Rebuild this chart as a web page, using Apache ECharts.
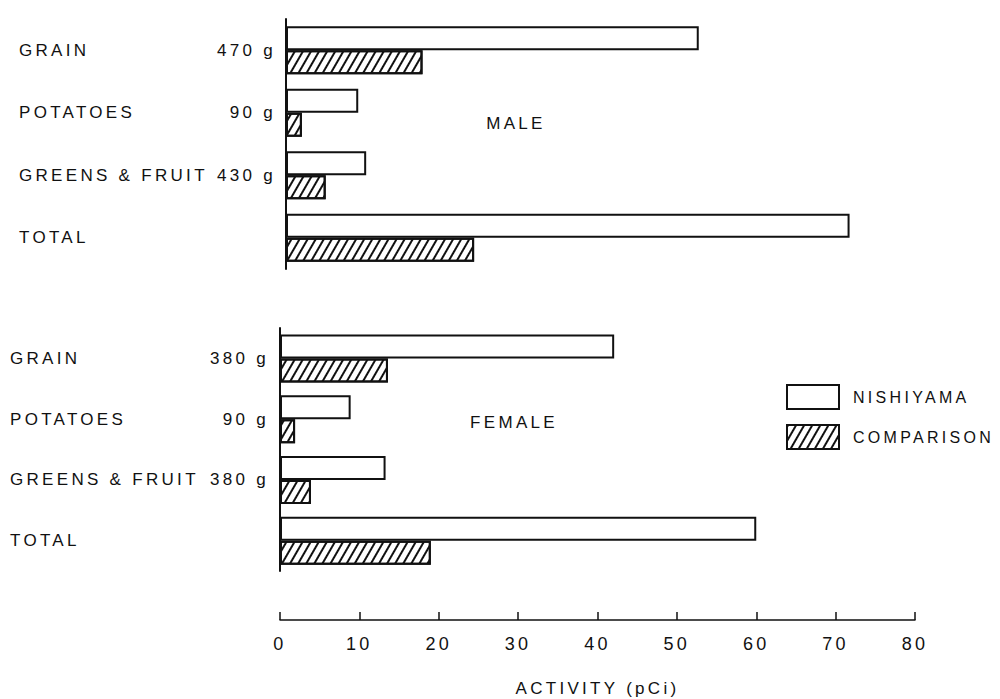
<!DOCTYPE html>
<html>
<head>
<meta charset="utf-8">
<script src="https://cdn.jsdelivr.net/npm/echarts@6/dist/echarts.min.js"></script>
<style>
  html, body { margin: 0; padding: 0; background: #fff; }
  #chart { width: 1000px; height: 699px; letter-spacing: 3.3px; }
</style>
</head>
<body>
<div id="chart"></div>
<script>
// ---- data ----
const categories = ['GRAIN', 'POTATOES', 'GREENS & FRUIT', 'TOTAL'];
const maleWeights = ['470 g', '90 g', '430 g', ''];
const femaleWeights = ['380 g', '90 g', '380 g', ''];
const maleNishiyama = [52, 9.1, 10.1, 71];
const maleComparison = [17.2, 2.0, 5.0, 23.7];
const femaleNishiyama = [42.1, 8.9, 13.3, 60];
const femaleComparison = [13.6, 1.9, 3.9, 19];
const xTicks = [0, 80, 10]; // min, max, interval
const panelTitles = ['MALE', 'FEMALE'];
const seriesNames = ['NISHIYAMA', 'COMPARISON'];

const INK = '#111111';
const FONT = '"Liberation Sans", Arial, sans-serif';
const FS = 17;

const hatch = {
  symbol: 'rect',
  symbolSize: 1,
  color: INK,
  backgroundColor: '#fff',
  dashArrayX: [1, 0],
  dashArrayY: [1.6, 4.6],
  rotation: -Math.PI / 3
};

const openStyle = { color: '#fff', borderColor: INK, borderWidth: 2 };
const hatchStyle = { color: '#fff', borderColor: INK, borderWidth: 2, decal: hatch };

function nameAxis(grid, margin) {
  return {
    type: 'category', gridIndex: grid, data: categories, inverse: true, position: 'left',
    axisLine: { show: true, lineStyle: { color: INK, width: 2 } },
    axisTick: { show: false },
    axisLabel: {
      align: 'left', margin: margin, color: INK, fontSize: FS, fontFamily: FONT,
      padding: [0, 0, 12, 0]
    }
  };
}
function weightAxis(grid, weights, margin) {
  return {
    type: 'category', gridIndex: grid, data: weights, inverse: true, position: 'left', offset: 0,
    axisLine: { show: false }, axisTick: { show: false },
    axisLabel: { align: 'right', margin: margin, color: INK, fontSize: FS, fontFamily: FONT }
  };
}

const chart = echarts.init(document.getElementById('chart'), null, { renderer: 'svg' });
chart.setOption({
  animation: false,
  backgroundColor: '#fff',
  textStyle: { fontFamily: FONT },
  title: [
    { text: panelTitles[0], left: 511, top: 110, textAlign: 'center',
      textStyle: { color: INK, fontSize: FS, fontWeight: 'normal', fontFamily: FONT } },
    { text: panelTitles[1], left: 509, top: 409, textAlign: 'center',
      textStyle: { color: INK, fontSize: FS, fontWeight: 'normal', fontFamily: FONT } }
  ],
  legend: {
    orient: 'vertical', left: 781, top: 379,
    itemWidth: 52, itemHeight: 24, itemGap: 14,
    icon: 'rect',
    data: seriesNames,
    textStyle: { color: INK, fontSize: 16, fontFamily: FONT, padding: [0, 0, 0, 9] }
  },
  grid: [
    { left: 286, top: 19, width: 635, height: 250 },
    { left: 280, top: 328, width: 635, height: 243 }
  ],
  xAxis: [
    { type: 'value', gridIndex: 0, min: xTicks[0], max: xTicks[1], interval: xTicks[2], show: false },
    { type: 'value', gridIndex: 1, min: xTicks[0], max: xTicks[1], interval: xTicks[2],
      offset: 49,
      name: 'ACTIVITY (pCi)', nameLocation: 'middle', nameGap: 60,
      nameTextStyle: { color: INK, fontSize: FS, fontFamily: FONT },
      axisLine: { show: true, lineStyle: { color: INK, width: 1.5 } },
      axisTick: { show: true, inside: true, length: 8, lineStyle: { color: INK, width: 1.5 } },
      axisLabel: { color: INK, fontSize: 18, fontFamily: FONT, margin: 15 },
      splitLine: { show: false }
    }
  ],
  yAxis: [
    nameAxis(0, 267),
    weightAxis(0, maleWeights, 10),
    nameAxis(1, 270),
    weightAxis(1, femaleWeights, 11)
  ],
  series: [
    { name: seriesNames[0], type: 'bar', xAxisIndex: 0, yAxisIndex: 0, data: maleNishiyama,
      barWidth: 24, barGap: '0%', itemStyle: openStyle },
    { name: seriesNames[1], type: 'bar', xAxisIndex: 0, yAxisIndex: 0, data: maleComparison,
      barWidth: 24, barGap: '0%', itemStyle: hatchStyle },
    { name: seriesNames[0], type: 'bar', xAxisIndex: 1, yAxisIndex: 2, data: femaleNishiyama,
      barWidth: 24, barGap: '0%', itemStyle: openStyle },
    { name: seriesNames[1], type: 'bar', xAxisIndex: 1, yAxisIndex: 2, data: femaleComparison,
      barWidth: 24, barGap: '0%', itemStyle: hatchStyle }
  ]
});
</script>
</body>
</html>
